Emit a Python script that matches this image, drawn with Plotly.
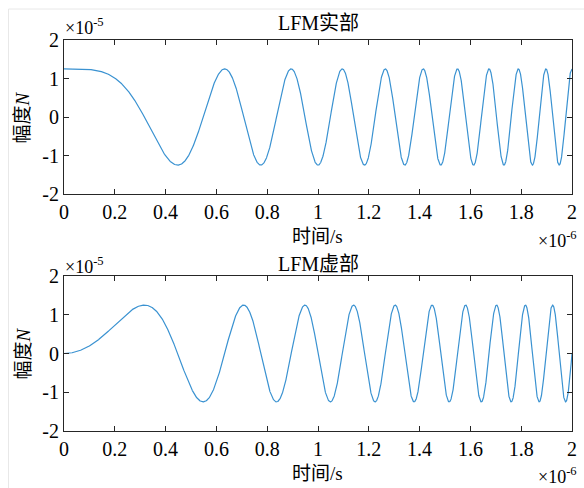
import numpy as np
import plotly.graph_objects as go
from plotly.subplots import make_subplots

# ---- signal parameters ----
amplitude = 1.25e-5          # peak value (x1e-5 axis shows 1.25)
pulse_width = 2e-6           # time span 0 .. 2 us
bandwidth = 1e7              # 10 MHz sweep (first min at ~0.45 us, max at ~0.63 us)
n_samples = 4001

# ---- tick labels ----
x_tickvals = [0, 0.2e-6, 0.4e-6, 0.6e-6, 0.8e-6, 1.0e-6, 1.2e-6, 1.4e-6, 1.6e-6, 1.8e-6, 2.0e-6]
x_ticktext = ["0", "0.2", "0.4", "0.6", "0.8", "1", "1.2", "1.4", "1.6", "1.8", "2"]
y_tickvals = [-2e-5, -1e-5, 0, 1e-5, 2e-5]
y_ticktext = ["-2", "-1", "0", "1", "2"]
titles = ["LFM实部", "LFM虚部"]
x_label = "时间/s"
y_label = "幅度<i>N</i>"

chirp_rate = bandwidth / pulse_width
t = np.linspace(0, pulse_width, n_samples)
phase = np.pi * chirp_rate * t ** 2
real_part = amplitude * np.cos(phase)
imag_part = amplitude * np.sin(phase)

W, H = 584, 488
L, R, T, B = 64, 577, 40, 431
PW, PH = R - L, B - T


def px(x):
    return (x - L) / PW


def py(y):
    return (B - y) / PH


SERIF = "Times New Roman, Liberation Serif, serif"
MIX = "Times New Roman, Liberation Serif, Noto Sans CJK SC, serif"
AX = "#262626"
LINE = "#3a92d1"

fig = make_subplots(rows=2, cols=1)
fig.add_trace(go.Scatter(x=t, y=real_part, mode="lines",
                         line=dict(color=LINE, width=1.2), showlegend=False), row=1, col=1)
fig.add_trace(go.Scatter(x=t, y=imag_part, mode="lines",
                         line=dict(color=LINE, width=1.2), showlegend=False), row=2, col=1)

axis_common = dict(showline=True, linecolor=AX, linewidth=1, mirror="ticks",
                   ticks="inside", ticklen=5, tickcolor=AX, tickwidth=1,
                   showgrid=False, zeroline=False,
                   tickfont=dict(family=SERIF, size=20, color="#000000"))

fig.update_layout(
    width=W, height=H,
    margin=dict(l=L, r=W - R, t=T, b=H - B),
    paper_bgcolor="white", plot_bgcolor="white",
    font=dict(family=SERIF),
    xaxis=dict(domain=[0, 1], range=[0, pulse_width], tickvals=x_tickvals, ticktext=x_ticktext,
               anchor="y", **axis_common),
    yaxis=dict(domain=[py(194), 1], range=[-2e-5, 2e-5], tickvals=y_tickvals, ticktext=y_ticktext,
               anchor="x", **axis_common),
    xaxis2=dict(domain=[0, 1], range=[0, pulse_width], tickvals=x_tickvals, ticktext=x_ticktext,
                anchor="y2", **axis_common),
    yaxis2=dict(domain=[0, py(276)], range=[-2e-5, 2e-5], tickvals=y_tickvals, ticktext=y_ticktext,
                anchor="x2", **axis_common),
)

ann = []
# titles
for title, yc in zip(titles, [23, 264]):
    ann.append(dict(text=title, x=0.5, y=py(yc), xref="paper", yref="paper",
                    xanchor="center", yanchor="middle", showarrow=False,
                    font=dict(family=MIX, size=20, color="#000")))
# x labels
for yc in [236, 473]:
    ann.append(dict(text=x_label, x=px(320), y=py(yc), xref="paper", yref="paper",
                    xanchor="center", yanchor="middle", showarrow=False,
                    font=dict(family=MIX, size=19, color="#000")))
# y labels
for yc in [117, 353]:
    ann.append(dict(text=y_label, x=px(23), y=py(yc), xref="paper", yref="paper",
                    xanchor="center", yanchor="middle", showarrow=False, textangle=-90,
                    font=dict(family=MIX, size=19, color="#000")))
# exponent labels
for yc in [26, 265]:
    ann.append(dict(text="×10<sup>-5</sup>", x=px(63), y=py(yc), xref="paper", yref="paper",
                    xanchor="left", yanchor="middle", showarrow=False,
                    font=dict(family=SERIF, size=18, color="#000")))
for yc in [239, 475]:
    ann.append(dict(text="×10<sup>-6</sup>", x=px(584), y=py(yc), xref="paper", yref="paper",
                    xanchor="right", yanchor="middle", showarrow=False,
                    font=dict(family=SERIF, size=18, color="#000")))
fig.update_layout(annotations=ann)

# faint figure frame
fig.add_shape(type="rect", xref="paper", yref="paper",
              x0=px(8), x1=px(600), y0=py(500), y1=py(9),
              line=dict(color="#e8e8e8", width=1), layer="below")

fig.write_html("out.html")
